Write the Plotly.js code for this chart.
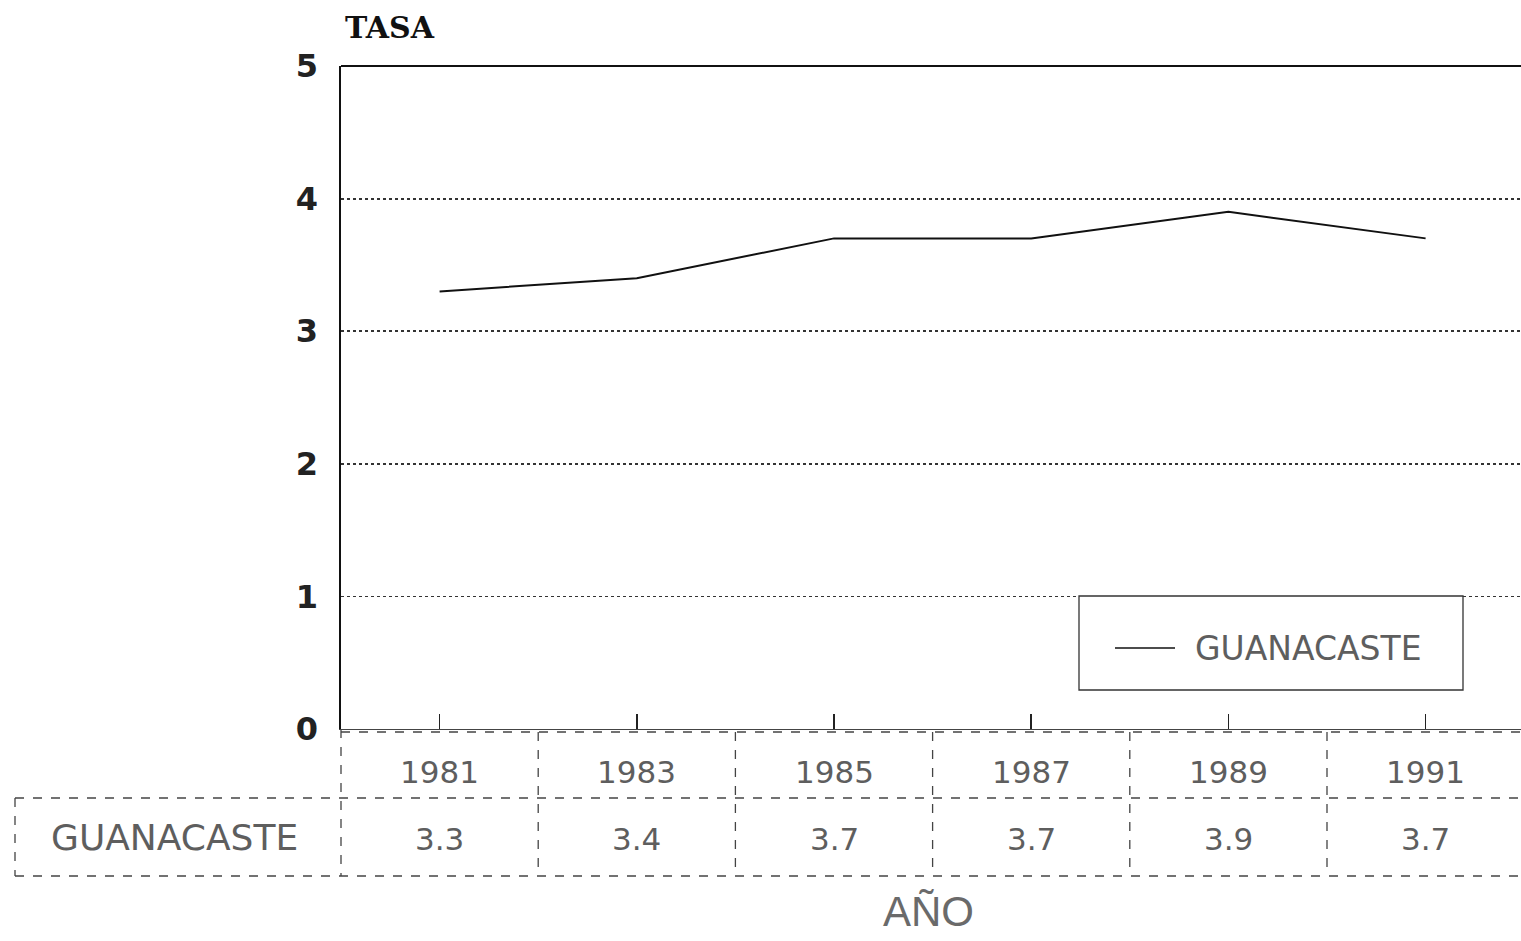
<!DOCTYPE html>
<html><head><meta charset="utf-8">
<script src="https://cdn.plot.ly/plotly-3.0.1.min.js"></script>
<style>html,body{margin:0;padding:0;background:#fff;}#chart{width:1521px;height:941px;}</style>
</head><body><div id="chart"></div>
<script>
const years = [1981, 1983, 1985, 1987, 1989, 1991];
const guanacaste = [3.3, 3.4, 3.7, 3.7, 3.9, 3.7];
const seriesName = 'GUANACASTE';
const yTicks = [0, 1, 2, 3, 4, 5];

const PX0 = 341, PX1 = 1521, PY0 = 66, PY1 = 729;
const W = PX1 - PX0, H = PY1 - PY0;
const py = v => (PY1 - v) / H;   // pixel y -> paper y
const pxp = v => (v - PX0) / W;  // pixel x -> paper x

const tableColor = '#5e5e5e';
const tfont = {family:'DejaVu Sans', size:31, color:tableColor};
const dash = {color: '#444', width: 1.3, dash: 'dash'};
const shapes = [];
shapes.push({type:'line', xref:'paper', yref:'paper', x0:0, x1:1, y0:1, y1:1, line:{color:'#111', width:2}});
shapes.push({type:'line', xref:'paper', yref:'paper', x0:0, x1:1, y0:py(732), y1:py(732), line:dash});
shapes.push({type:'line', xref:'paper', yref:'paper', x0:pxp(15), x1:1, y0:py(798), y1:py(798), line:dash});
shapes.push({type:'line', xref:'paper', yref:'paper', x0:pxp(15), x1:1, y0:py(876), y1:py(876), line:dash});
shapes.push({type:'line', xref:'paper', yref:'paper', x0:0, x1:0, y0:py(729), y1:py(876), line:dash});
shapes.push({type:'line', xref:'paper', yref:'paper', x0:pxp(15), x1:pxp(15), y0:py(798), y1:py(876), line:dash});
years.slice(1).forEach(y => {
  shapes.push({type:'line', xref:'x', yref:'paper', x0:y-1, x1:y-1, y0:py(732), y1:py(876), line:dash});
});
// legend box
shapes.push({type:'rect', xref:'paper', yref:'paper', x0:pxp(1079), x1:pxp(1463), y0:py(596), y1:py(690), line:{color:'#333', width:1.3}, fillcolor:'#fff'});
shapes.push({type:'line', xref:'paper', yref:'paper', x0:pxp(1115), x1:pxp(1175), y0:py(648), y1:py(648), line:{color:'#111', width:1.6}});

const annotations = [];
const ann = (o) => Object.assign({showarrow:false, xanchor:'center', yanchor:'middle'}, o);
years.forEach((y, i) => {
  annotations.push(ann({x:y, xref:'x', y:py(772), yref:'paper', text:String(y), font:tfont}));
  annotations.push(ann({x:y, xref:'x', y:py(839), yref:'paper', text:guanacaste[i].toFixed(1), font:tfont}));
});
annotations.push(ann({x:pxp(174), xref:'paper', y:py(837), yref:'paper', text:seriesName,
  font:{family:'DejaVu Sans', size:36, color:tableColor}}));
annotations.push(ann({x:pxp(1308), xref:'paper', y:py(648), yref:'paper', text:seriesName,
  font:{family:'DejaVu Sans', size:33, color:tableColor}}));
annotations.push(ann({x:pxp(390), xref:'paper', y:py(28), yref:'paper', text:'<b>TASA</b>',
  font:{family:'DejaVu Serif', size:30, color:'#111'}}));
annotations.push(ann({x:pxp(928), xref:'paper', y:py(912), yref:'paper', text:'AÑO',
  font:{family:'Arial, Liberation Sans', size:42, color:'#6a6a6a'}}));

const data = [{
  x: years, y: guanacaste, type:'scatter', mode:'lines', name: seriesName,
  line:{color:'#111', width:2}, showlegend:false
}];

const layout = {
  width:1521, height:941,
  margin:{l:PX0, r:0, t:PY0, b:941-PY1, pad:0},
  paper_bgcolor:'#fff', plot_bgcolor:'#fff',
  showlegend:false,
  xaxis:{range:[1980, 1980 + W/98.6], tickvals:years, ticks:'inside', ticklen:15, tickwidth:1.5, tickcolor:'#222',
    showticklabels:false, showgrid:false, zeroline:false, showline:true, linecolor:'#444', linewidth:1.3},
  yaxis:{range:[0,5], tickvals:yTicks, ticktext:yTicks.map(String), showgrid:true, gridcolor:'#333', gridwidth:1.8, griddash:'dot',
    zeroline:false, showline:true, linecolor:'#111', linewidth:2.5, ticks:'', ticklabelstandoff:14,
    tickfont:{family:'DejaVu Sans', size:32, color:'#222', weight:'bold'}},
  shapes, annotations
};
Plotly.newPlot('chart', data, layout, {displayModeBar:false, staticPlot:true});
</script></body></html>
